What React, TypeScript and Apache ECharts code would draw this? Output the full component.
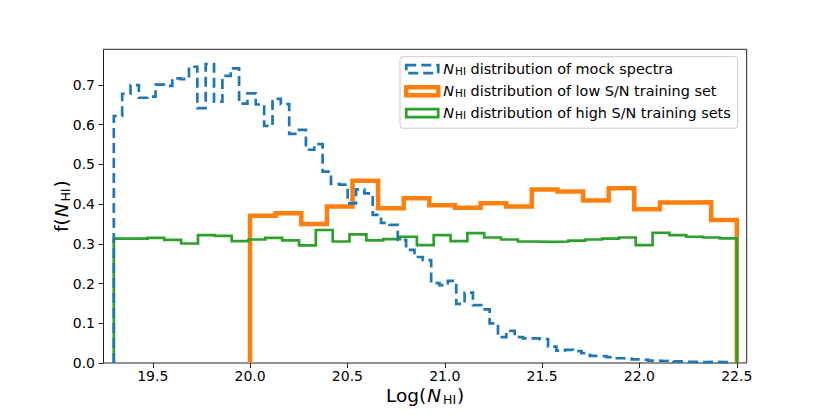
import React, { useEffect, useRef } from "react";
import * as echarts from "echarts";

// ---- data ----
const BLUE_START = 19.3;
const BLUE_BIN = 0.0429;
const BLUE_VALUES = [
  0.622, 0.678, 0.7, 0.668, 0.671, 0.701, 0.698, 0.717, 0.715, 0.746,
  0.642, 0.753, 0.658, 0.723, 0.742, 0.653, 0.679, 0.651, 0.597, 0.665,
  0.652, 0.577, 0.587, 0.537, 0.551, 0.482, 0.451, 0.449, 0.402, 0.437,
  0.427, 0.373, 0.353, 0.348, 0.31, 0.285, 0.267, 0.259, 0.201, 0.196,
  0.207, 0.149, 0.177, 0.146, 0.135, 0.1, 0.065, 0.081, 0.065, 0.062,
  0.062, 0.06, 0.041, 0.031, 0.033, 0.03, 0.025, 0.018, 0.017, 0.015,
  0.012, 0.011, 0.009, 0.008, 0.006, 0.005, 0.006, 0.004, 0.003, 0.003,
  0.002, 0.003, 0.002, 0.002,
];

const ORANGE_START = 20.0;
const ORANGE_END = 22.5;
const ORANGE_VALUES = [
  0.371, 0.377, 0.35, 0.394, 0.459, 0.39, 0.415, 0.397, 0.391, 0.402,
  0.394, 0.437, 0.432, 0.409, 0.44, 0.387, 0.404, 0.405, 0.36,
];

const GREEN_START = 19.3;
const GREEN_END = 22.5;
const GREEN_VALUES = [
  0.313, 0.313, 0.315, 0.31, 0.301, 0.322, 0.32, 0.307, 0.311, 0.315,
  0.309, 0.296, 0.335, 0.306, 0.324, 0.309, 0.312, 0.318, 0.297, 0.322,
  0.307, 0.327, 0.316, 0.311, 0.306, 0.305, 0.306, 0.308, 0.311, 0.313,
  0.316, 0.297, 0.328, 0.322, 0.318, 0.316, 0.314,
];

const X_TICKS = [19.5, 20.0, 20.5, 21.0, 21.5, 22.0, 22.5];
const Y_TICKS = [0, 0.1, 0.2, 0.3, 0.4, 0.5, 0.6, 0.7];

const SERIES_NAMES = ["mock", "low", "high"];
const LEGEND_TEXTS = [
  "distribution of mock spectra",
  "distribution of low S/N training set",
  "distribution of high S/N training sets",
];

const BLUE = "#1f77b4";
const ORANGE = "#ff7f0e";
const GREEN = "#2ca02c";
const FONT = "DejaVu Sans";

function uniformEdges(start: number, width: number, n: number): number[] {
  const e: number[] = [];
  for (let i = 0; i <= n; i++) e.push(start + i * width);
  return e;
}

function stepPoints(edges: number[], values: number[]): number[][] {
  const pts: number[][] = [[edges[0], 0]];
  values.forEach((v, i) => {
    pts.push([edges[i], v]);
    pts.push([edges[i + 1], v]);
  });
  pts.push([edges[edges.length - 1], 0]);
  return pts;
}

export default function App() {
  const ref = useRef<HTMLDivElement>(null);

  useEffect(() => {
    if (!ref.current) return;
    const chart = echarts.init(ref.current, undefined, { renderer: "svg" });

    const blueEdges = uniformEdges(BLUE_START, BLUE_BIN, BLUE_VALUES.length);
    const orangeEdges = uniformEdges(
      ORANGE_START,
      (ORANGE_END - ORANGE_START) / ORANGE_VALUES.length,
      ORANGE_VALUES.length
    );
    const greenEdges = uniformEdges(
      GREEN_START,
      (GREEN_END - GREEN_START) / GREEN_VALUES.length,
      GREEN_VALUES.length
    );

    const fmt = (v: number) => v.toFixed(1);

    const legendRich = {
      n: { fontFamily: FONT, fontSize: 14.4, fontStyle: "italic", lineHeight: 17, color: "#000", padding: [0, 1, 0, 0] },
      s: { fontFamily: FONT, fontSize: 10.5, lineHeight: 11, color: "#000", padding: [5, 0, 1, 0] },
      t: { fontFamily: FONT, fontSize: 14.4, lineHeight: 17, color: "#000" },
    };

    const nameRich = {
      a: { fontFamily: FONT, fontSize: 18.5, lineHeight: 24, color: "#000" },
      n: { fontFamily: FONT, fontSize: 18.5, fontStyle: "italic", lineHeight: 24, color: "#000", padding: [0, 2, 0, 1] },
      s: { fontFamily: FONT, fontSize: 12.5, lineHeight: 13, color: "#000", padding: [9, 1, 2, 0] },
    };

    const option: any = {
      animation: false,
      backgroundColor: "#fff",
      grid: {
        left: 103.5,
        top: 49.3,
        width: 643.2,
        height: 313.7,
        show: true,
        borderColor: "#222",
        borderWidth: 1,
        backgroundColor: "transparent",
        containLabel: false,
      },
      legend: {
        orient: "vertical",
        left: 400,
        top: 56.7,
        padding: [4, 7, 6.5, 4],
        itemGap: 5,
        itemWidth: 32,
        itemHeight: 8,
        icon: "rect",
        backgroundColor: "rgba(255,255,255,0.8)",
        borderColor: "#cccccc",
        borderWidth: 1,
        borderRadius: 3,
        selectedMode: false,
        textStyle: { fontFamily: FONT, fontSize: 14.4, color: "#000", rich: legendRich },
        formatter: (name: string) => {
          const idx = SERIES_NAMES.indexOf(name);
          return `{n|N}{s|HI}{t| ${LEGEND_TEXTS[idx]}}`;
        },
        data: [
          {
            name: SERIES_NAMES[0],
            itemStyle: { color: "rgba(255,255,255,0)", borderColor: BLUE, borderWidth: 2.7, borderType: [10, 5] },
          },
          {
            name: SERIES_NAMES[1],
            itemStyle: { color: "rgba(255,255,255,0)", borderColor: ORANGE, borderWidth: 4.5 },
          },
          {
            name: SERIES_NAMES[2],
            itemStyle: { color: "rgba(255,255,255,0)", borderColor: GREEN, borderWidth: 2.7 },
          },
        ],
      },
      xAxis: {
        type: "value",
        min: 19.247,
        max: 22.551,
        name: "{a|Log(}{n|N}{s|HI}{a|)}",
        nameLocation: "middle",
        nameGap: 20.5,
        nameMoveOverlap: false,
        nameTextStyle: { fontFamily: FONT, fontSize: 18.5, color: "#000", rich: nameRich },
        splitLine: { show: false },
        axisLine: { show: false },
        axisTick: { show: true, length: 5, customValues: X_TICKS, lineStyle: { color: "#222", width: 1 } },
        axisLabel: {
          customValues: X_TICKS,
          formatter: fmt,
          fontFamily: FONT,
          fontSize: 14,
          color: "#000",
          margin: 6,
        },
      },
      yAxis: {
        type: "value",
        min: 0,
        max: 0.79,
        name: "{a|f(}{n|N}{s|HI}{a|)}",
        nameLocation: "middle",
        nameGap: 30,
        nameMoveOverlap: false,
        nameTextStyle: { fontFamily: FONT, fontSize: 18.5, color: "#000", rich: nameRich },
        splitLine: { show: false },
        axisLine: { show: false },
        axisTick: { show: true, length: 5, customValues: Y_TICKS, lineStyle: { color: "#222", width: 1 } },
        axisLabel: {
          customValues: Y_TICKS,
          formatter: fmt,
          fontFamily: FONT,
          fontSize: 14,
          color: "#000",
          margin: 8.5,
        },
      },
      series: [
        {
          name: SERIES_NAMES[1],
          type: "line",
          data: stepPoints(orangeEdges, ORANGE_VALUES),
          symbol: "none",
          showSymbol: false,
          silent: true,
          z: 2,
          itemStyle: { color: ORANGE },
          lineStyle: { color: ORANGE, width: 4.5, cap: "butt", join: "miter" },
        },
        {
          name: SERIES_NAMES[2],
          type: "line",
          data: stepPoints(greenEdges, GREEN_VALUES),
          symbol: "none",
          showSymbol: false,
          silent: true,
          z: 3,
          itemStyle: { color: GREEN },
          lineStyle: { color: GREEN, width: 2.7, cap: "butt", join: "miter" },
        },
        {
          name: SERIES_NAMES[0],
          type: "line",
          data: stepPoints(blueEdges, BLUE_VALUES),
          symbol: "none",
          showSymbol: false,
          silent: true,
          z: 4,
          itemStyle: { color: BLUE },
          lineStyle: { color: BLUE, width: 2.7, type: [10, 5], cap: "butt", join: "miter" },
        },
      ],
    };

    chart.setOption(option);
    return () => chart.dispose();
  }, []);

  return (
    <div
      ref={ref}
      style={{ position: "fixed", left: 0, top: 0, width: 830, height: 415, background: "#fff" }}
    />
  );
}
